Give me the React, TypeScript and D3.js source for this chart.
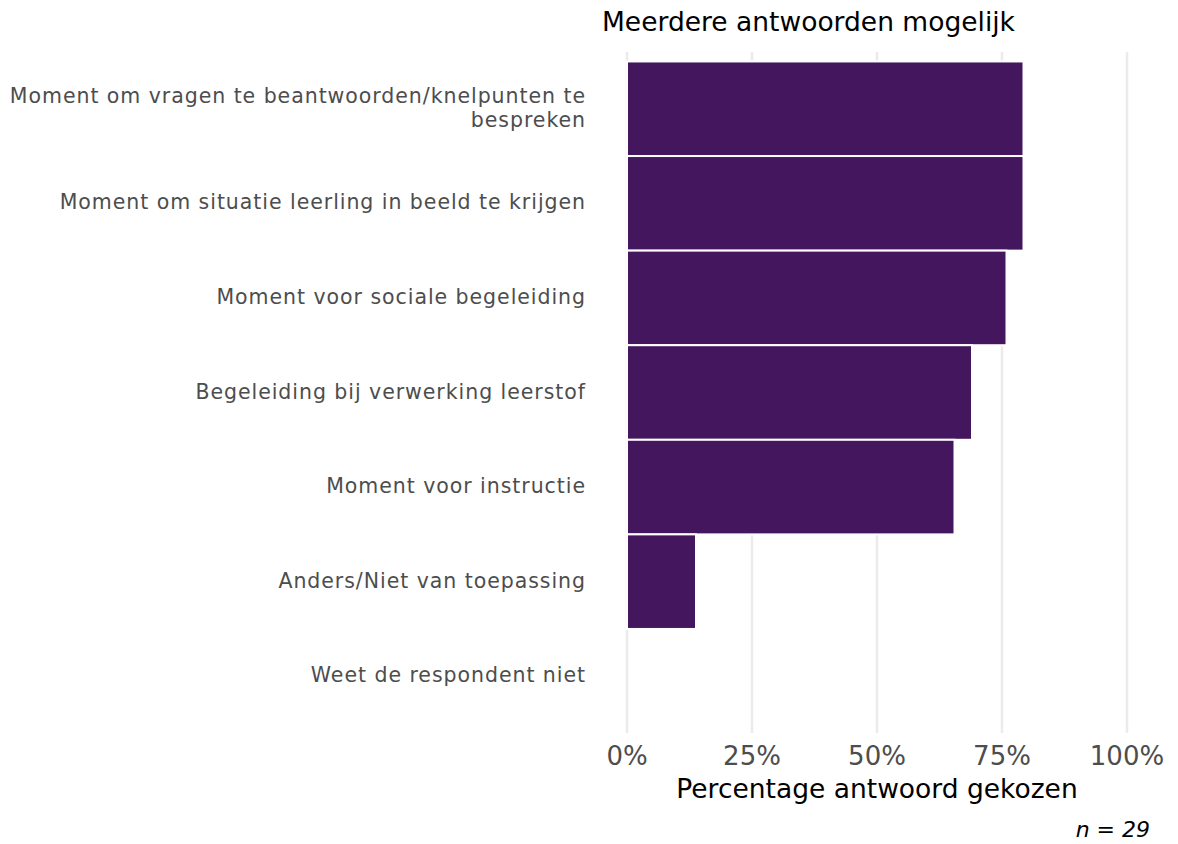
import { useEffect, useRef } from 'react'
import * as d3 from 'd3'

const categories = [
  ['Moment om vragen te beantwoorden/knelpunten te', 'bespreken'],
  ['Moment om situatie leerling in beeld te krijgen'],
  ['Moment voor sociale begeleiding'],
  ['Begeleiding bij verwerking leerstof'],
  ['Moment voor instructie'],
  ['Anders/Niet van toepassing'],
  ['Weet de respondent niet'],
]
const percentages = [79.3, 79.3, 75.9, 69.0, 65.5, 13.8, 0]
const xTicks = [0, 25, 50, 75, 100]
const titleText = 'Meerdere antwoorden mogelijk'
const xTitle = 'Percentage antwoord gekozen'
const captionText = 'n = 29'

const App = () => {
  const chartRef = useRef<SVGSVGElement>(null)

  useEffect(() => {
    const width = 1178
    const height = 844
    const font = "'DejaVu Sans', Verdana, sans-serif"
    const svg = d3.select(chartRef.current)
    svg.selectAll('*').remove()
    svg.attr('width', width).attr('height', height).style('font-family', font)

    const panel = { left: 602, right: 1152, top: 52, bottom: 733 }

    const x = d3.scaleLinear()
      .domain([-5, 105])
      .range([panel.left, panel.right])

    const y = d3.scaleBand<number>()
      .domain(categories.map((_, i) => i))
      .range([panel.top, panel.bottom])
      .paddingOuter(0.1)
      .paddingInner(0)

    // grid
    svg.append('g')
      .selectAll('line')
      .data(xTicks)
      .enter()
      .append('line')
      .attr('x1', d => x(d))
      .attr('x2', d => x(d))
      .attr('y1', panel.top)
      .attr('y2', panel.bottom)
      .attr('stroke', '#ebebeb')
      .attr('stroke-width', 2.5)

    // bars
    svg.append('g')
      .selectAll('rect')
      .data(percentages)
      .enter()
      .append('rect')
      .attr('x', x(0))
      .attr('y', (d, i) => y(i)!)
      .attr('width', d => x(d) - x(0))
      .attr('height', y.bandwidth())
      .attr('fill', '#44165e')
      .attr('stroke', '#ffffff')
      .attr('stroke-width', 2)

    // y labels
    const labels = svg.append('g')
      .selectAll('text')
      .data(categories)
      .enter()
      .append('text')
      .attr('x', 586)
      .attr('y', (d, i) => y(i)! + y.bandwidth() / 2)
      .attr('text-anchor', 'end')
      .attr('fill', '#4d4d4d')
      .style('font-size', '20.5px')
      .style('letter-spacing', '0.95px')

    labels.each(function (d) {
      const lineH = 24
      const start = -((d.length - 1) * lineH) / 2
      d.forEach((line, j) => {
        d3.select(this).append('tspan')
          .attr('x', 586)
          .attr('dy', j === 0 ? start + 6 : lineH)
          .text(line)
      })
    })

    // x tick labels
    svg.append('g')
      .selectAll('text')
      .data(xTicks)
      .enter()
      .append('text')
      .attr('x', d => x(d))
      .attr('y', 765)
      .attr('text-anchor', 'middle')
      .attr('fill', '#4d4d4d')
      .style('font-size', '26px')
      .text(d => `${d}%`)

    svg.append('text')
      .attr('x', (panel.left + panel.right) / 2)
      .attr('y', 798)
      .attr('text-anchor', 'middle')
      .attr('fill', '#000')
      .style('font-size', '26.5px')
      .text(xTitle)

    svg.append('text')
      .attr('x', panel.left)
      .attr('y', 31)
      .attr('fill', '#000')
      .style('font-size', '26.5px')
      .text(titleText)

    svg.append('text')
      .attr('x', 1150)
      .attr('y', 837)
      .attr('text-anchor', 'end')
      .attr('fill', '#000')
      .style('font-size', '22px')
      .style('font-style', 'italic')
      .text(captionText)
  }, [])

  return (
    <div style={{ position: 'absolute', left: 0, top: 0 }}>
      <svg ref={chartRef}></svg>
    </div>
  )
}

export default App
